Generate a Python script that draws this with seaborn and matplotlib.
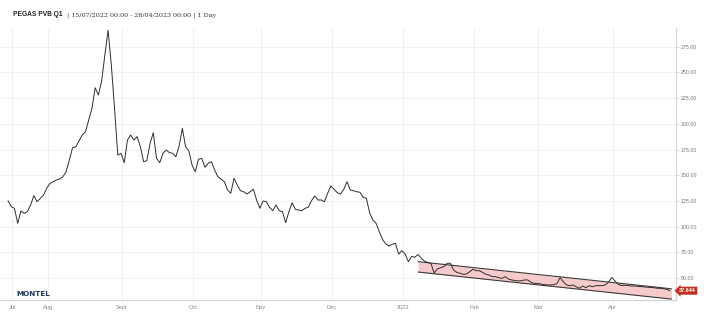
import numpy as np
import pandas as pd
import matplotlib
matplotlib.use("Agg")
import matplotlib.pyplot as plt
from matplotlib.transforms import blended_transform_factory
import seaborn as sns

# Trading-day calendar of the series
start_date = "2022-07-15"
end_date = "2023-04-28"

# Trading session number (0 = first day) and settlement price, EUR/MWh
session = [
    0, 1, 2, 3, 4, 5, 6, 7, 8, 9, 10, 11, 12, 13, 15, 16, 17, 18, 19, 20,
    21, 23, 24, 25, 26, 27, 28, 29, 30, 31, 32, 33, 34, 35, 36, 37, 38, 39, 40, 41,
    42, 43, 44, 45, 46, 47, 48, 49, 50, 51, 52, 53, 54, 55, 56, 57, 58, 59, 60, 61,
    62, 63, 64, 65, 66, 67, 68, 69, 70, 71, 72, 73, 74, 75, 76, 77, 78, 79, 80, 81,
    82, 83, 84, 85, 86, 87, 88, 89, 91, 92, 93, 94, 95, 96, 97, 98, 99, 100, 101, 102,
    103, 104, 105, 106, 107, 108, 109, 110, 111, 112, 113, 114, 115, 116, 117, 118, 119, 120, 121, 122,
    123, 124, 125, 126, 127, 128, 129, 130, 131, 132, 133, 134, 135, 136, 137, 138, 139, 140, 141, 142,
    143, 144, 145, 146, 147, 148, 149, 150, 151, 152, 153, 154, 155, 156, 158, 159, 160, 161, 162, 163,
    164, 165, 166, 167, 168, 169, 170, 171, 172, 173, 174, 175, 176, 177, 178, 179, 180, 181, 182, 183,
    184, 185, 186, 187, 188, 189, 190, 191, 192, 193, 194, 195, 196, 197, 198, 199, 200, 201, 202, 203,
    204, 205,
]
price = [
    125.2, 119.4, 117.8, 103.2, 115.2, 112.9, 114.5, 121.0, 130.1, 124.2, 127.5, 130.7, 137.3, 142.1, 145.3, 146.3, 148.5, 153.4, 164.8, 176.8,
    177.7, 189.1, 192.3, 203.7, 215.1, 235.1, 228.0, 241.6, 266.9, 291.0, 257.2, 215.1, 169.6, 171.3, 162.2, 184.2, 189.1, 184.2, 187.5, 177.7,
    163.1, 164.1, 181.0, 191.3, 166.4, 162.2, 171.3, 174.5, 171.9, 171.3, 168.0, 178.4, 195.6, 177.7, 173.8, 159.9, 153.4, 165.5, 166.4, 157.7,
    161.6, 163.1, 155.1, 148.5, 146.3, 143.7, 135.6, 132.4, 147.0, 140.5, 134.9, 133.9, 131.7, 133.9, 136.3, 125.9, 117.8, 124.9, 124.2, 118.8,
    115.5, 121.0, 115.5, 114.5, 103.8, 114.5, 123.2, 116.8, 115.5, 117.8, 118.8, 125.2, 129.8, 125.9, 125.9, 124.2, 132.4, 139.5, 136.3, 133.0,
    131.7, 136.3, 143.7, 135.6, 134.9, 133.9, 133.4, 128.5, 127.5, 113.5, 106.4, 103.2, 95.0, 87.6, 83.1, 81.1, 82.8, 83.8, 73.3, 76.6,
    73.3, 65.9, 70.9, 70.2, 72.9, 69.2, 66.5, 65.1, 64.1, 54.9, 58.8, 60.0, 61.0, 64.3, 64.3, 57.8, 55.5, 54.6, 53.6, 53.9,
    56.1, 58.5, 57.1, 57.1, 55.5, 53.6, 52.9, 51.3, 51.3, 50.3, 49.7, 51.3, 49.0, 48.1, 47.1, 47.4, 48.1, 48.1, 45.8, 44.8,
    44.8, 44.2, 43.5, 43.2, 43.2, 43.6, 44.5, 50.3, 46.4, 43.2, 42.5, 43.2, 41.5, 40.0, 42.2, 40.6, 42.5, 41.5, 42.5, 42.5,
    42.6, 43.2, 46.0, 50.5, 47.1, 43.9, 42.7, 42.9, 42.7, 42.2, 42.2, 41.9, 41.5, 41.2, 41.0, 40.8, 40.6, 40.0, 40.0, 39.5,
    39.0, 37.644,
]
last_price = 37.644

# Descending trend channel
channel_session = [127, 205.5]
channel_upper = [65.9, 39.5]
channel_lower = [55.8, 29.5]

y_ticks = [50, 75, 100, 125, 150, 175, 200, 225, 250, 275]
month_names = {2: "Feb", 3: "Mar", 4: "Apr", 7: "Jul", 8: "Aug",
               9: "Sept", 10: "Oct", 11: "Nov", 12: "Dec"}
tick_shift = 1.3

sns.set_theme(style="white")
plt.rcParams["font.family"] = ["Liberation Sans", "DejaVu Sans"]

fig = plt.figure(figsize=(7.04, 3.22), dpi=100)
ax = fig.add_axes([0.0, 22 / 322, 676 / 704, 272 / 322])

df = pd.DataFrame({"session": session, "price": price})

ax.fill_between(channel_session, channel_lower, channel_upper,
                color="#f6caca", linewidth=0, zorder=1)
ax.plot(channel_session, channel_upper, color="#3a3a3a", linewidth=0.8, zorder=2)
ax.plot(channel_session, channel_lower, color="#3a3a3a", linewidth=0.8, zorder=2)

sns.lineplot(data=df, x="session", y="price", ax=ax, color="#2e2e2e",
             linewidth=0.7, zorder=3)

# month ticks on the trading-day axis
days = pd.bdate_range(start_date, end_date)
cal = pd.Series(np.arange(len(days)), index=days)
firsts = cal.groupby([days.year, days.month]).min()
xt, xl = [], []
for (yr, mo), idx in firsts.items():
    xt.append(idx + tick_shift)
    xl.append(str(yr) if mo == 1 else month_names[mo])

ax.set_xlim(-2.48, 206.9)
ax.set_ylim(28.6, 293.2)
ax.set_xticks(xt)
ax.set_xticklabels(xl)
ax.set_yticks(y_ticks)
ax.set_yticklabels([f"{v:.2f}" for v in y_ticks])
ax.yaxis.tick_right()
ax.set_xlabel("")
ax.set_ylabel("")

ax.grid(True, color="#efefef", linewidth=0.6)
ax.set_axisbelow(True)
for s in ("left", "top"):
    ax.spines[s].set_visible(False)
for s in ("right", "bottom"):
    ax.spines[s].set_color("#d3d3d3")
    ax.spines[s].set_linewidth(0.8)
ax.tick_params(axis="y", length=2, width=0.5, color="#cccccc", labelsize=3.8,
               labelcolor="#777777", pad=1.5)
ax.tick_params(axis="x", length=2, width=0.5, color="#cccccc", labelsize=4.1,
               labelcolor="#888888", pad=1.5)

# last value tag on the price axis
trans = blended_transform_factory(ax.transAxes, ax.transData)
ax.text(1.0 + 3 / 676, last_price, f"{last_price:.3f}", transform=trans,
        ha="left", va="center", fontsize=3.9, color="white", fontweight="bold",
        bbox=dict(boxstyle="larrow,pad=0.28", fc="#c0321f", ec="none"),
        clip_on=False, zorder=5)

fig.text(13 / 704, 1 - 15 / 322, "PEGAS PVB Q1", fontsize=4.8, fontweight="bold",
         color="#222222", va="center", ha="left")
fig.text(67 / 704, 1 - 15 / 322, "| 15/07/2022 00:00 - 28/04/2023 00:00 | 1 Day",
         fontsize=4.6, color="#333333", va="center", ha="left",
         family=["DejaVu Serif"])
fig.text(16 / 704, 1 - 294 / 322, "MONTEL", fontsize=5.2, fontweight="heavy",
         color="#1d3557", va="center", ha="left", family=["DejaVu Sans"])

fig.savefig("out.png", dpi=100)
